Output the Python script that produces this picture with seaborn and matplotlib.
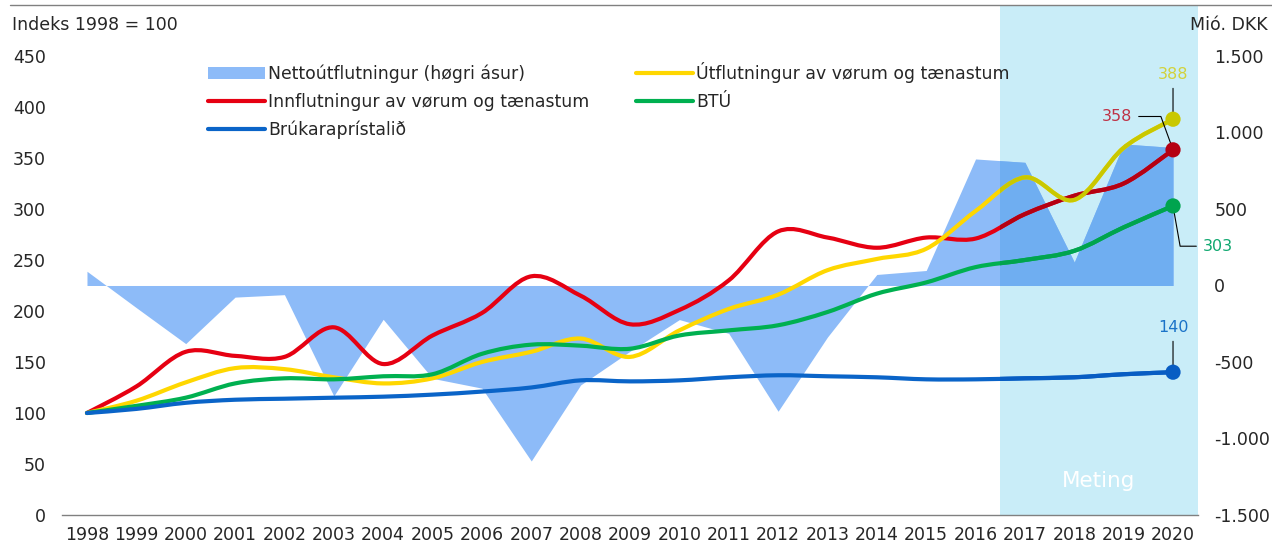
import numpy as np
import pandas as pd
import matplotlib
matplotlib.use("Agg")
import matplotlib.pyplot as plt
import seaborn as sns
from matplotlib.path import Path
from matplotlib.patches import PathPatch, Rectangle, Patch
from matplotlib.lines import Line2D
from matplotlib.colors import to_rgb
from matplotlib.transforms import blended_transform_factory
from matplotlib.ticker import FuncFormatter

# data
years = list(range(1998, 2021))
net_exports = [93, -145, -380, -76, -60, -722, -221, -607, -671, -1147, -650, -430,
               -223, -313, -822, -337, 72, 98, 827, 805, 153, 925, 902]
imports = [100, 126, 160, 156, 155, 184, 148, 176, 198, 234, 215, 187,
           201, 230, 278, 272, 262, 272, 271, 295, 313, 325, 358]
exports = [100, 112, 130, 144, 143, 135, 129, 134, 150, 160, 173, 155,
           181, 202, 216, 240, 251, 261, 298, 331, 309, 360, 388]
gdp = [100, 107, 115, 129, 134, 133, 136, 138, 158, 167, 166, 163,
       176, 181, 186, 199, 217, 228, 243, 250, 259, 282, 303]
cpi = [100, 104, 110, 113, 114, 115, 116, 118, 121, 125, 132, 131,
       132, 135, 137, 136, 135, 133, 133, 134, 135, 138, 140]

forecast_start = 2016.5
forecast_end = 2020.5

label_net = "Nettoútflutningur (høgri ásur)"
label_imp = "Innflutningur av vørum og tænastum"
label_cpi = "Brúkaraprístalið"
label_exp = "Útflutningur av vørum og tænastum"
label_gdp = "BTÚ"

SHADE = "#C9EDF8"
AREA = "#8DBBF8"
RED = "#E60012"
YELLOW = "#FFD700"
GREEN = "#00B050"
BLUE = "#0A64C8"


def darker(c):
    # colour as seen through the forecast band (multiply)
    return tuple(np.array(to_rgb(c)) * np.array(to_rgb(SHADE)))


def smooth_path(x, y):
    # Excel style smoothed line: cubic bezier through every point
    x = np.asarray(x, float)
    y = np.asarray(y, float)
    n = len(x)
    verts = [(x[0], y[0])]
    codes = [Path.MOVETO]
    for i in range(n - 1):
        i0 = max(i - 1, 0)
        i3 = min(i + 2, n - 1)
        c1 = (x[i] + (x[i + 1] - x[i0]) / 6, y[i] + (y[i + 1] - y[i0]) / 6)
        c2 = (x[i + 1] - (x[i3] - x[i]) / 6, y[i + 1] - (y[i3] - y[i]) / 6)
        verts += [c1, c2, (x[i + 1], y[i + 1])]
        codes += [Path.CURVE4] * 3
    return Path(verts, codes)


def band_clip(axis):
    tr = blended_transform_factory(axis.transData, axis.transAxes)
    return Rectangle((forecast_start, 0), forecast_end - forecast_start, 1, transform=tr)


sns.set_style("white")
plt.rcParams['font.family'] = ['DejaVu Sans']

fig = plt.figure(figsize=(12.72, 5.44), dpi=100)
ax = fig.add_axes([62.3 / 1272, 29 / 544, (1197.7 - 62.3) / 1272, (515 - 6) / 544])
ax2 = ax.twinx()

# right axis (net exports) lives on ax so it is drawn under the lines
left_top = 499
ax2.set_ylim(0, left_top)
ax.set_ylim(-1500, (left_top - 225) * 1500 / 225)
ax.set_xlim(1997.5, 2020.5)
ax.yaxis.tick_right()
ax2.yaxis.tick_left()

ax.axvspan(forecast_start, forecast_end, color=SHADE, lw=0, zorder=0)
ax.fill_between(years, 0, net_exports, color=AREA, lw=0, zorder=1)
dark_area = ax.fill_between(years, 0, net_exports, color=darker(AREA), lw=0, zorder=1.1)
dark_area.set_clip_path(band_clip(ax))

series = [(imports, RED), (exports, YELLOW), (gdp, GREEN), (cpi, BLUE)]
for vals, col in series:
    p = smooth_path(years, vals)
    ax2.add_patch(PathPatch(p, facecolor="none", edgecolor=col, lw=3,
                            capstyle="round", joinstyle="round", zorder=2))
    pd2 = PathPatch(p, facecolor="none", edgecolor=darker(col), lw=3,
                    capstyle="round", joinstyle="round", zorder=2.1)
    ax2.add_patch(pd2)
    pd2.set_clip_path(band_clip(ax2))

# end markers
df_end = pd.DataFrame({
    "year": [years[-1]] * 4,
    "value": [exports[-1], imports[-1], gdp[-1], cpi[-1]],
    "series": ["exp", "imp", "gdp", "cpi"],
})
pal = {"exp": darker(YELLOW), "imp": darker(RED), "gdp": darker(GREEN), "cpi": darker(BLUE)}
sns.scatterplot(data=df_end, x="year", y="value", hue="series", palette=pal, s=120,
                edgecolor="none", legend=False, ax=ax2, zorder=5, clip_on=False)
ax2.set_xlabel("")
ax2.set_ylabel("")

lab_kw = dict(fontsize=11.5, textcoords="offset points", ha="center", va="center")
ax2.annotate(str(exports[-1]), xy=(years[-1], exports[-1]), xytext=(0, 32), color="#D2D23C",
             arrowprops=dict(arrowstyle="-", color="black", lw=0.8, shrinkA=2, shrinkB=3), **lab_kw)
ax2.annotate(str(imports[-1]), xy=(years[-1], imports[-1]), xytext=(-40, 24), color="#BE3246",
             arrowprops=dict(arrowstyle="-", color="black", lw=0.8, shrinkA=2, shrinkB=2,
                             connectionstyle="angle,angleA=0,angleB=110,rad=0"), **lab_kw)
ax2.annotate(str(gdp[-1]), xy=(years[-1], gdp[-1]), xytext=(32, -29), color="#10A870",
             arrowprops=dict(arrowstyle="-", color="black", lw=0.8, shrinkA=2, shrinkB=2,
                             connectionstyle="angle,angleA=180,angleB=-80,rad=0"), **lab_kw)
ax2.annotate(str(cpi[-1]), xy=(years[-1], cpi[-1]), xytext=(0, 32), color="#1A73C8",
             arrowprops=dict(arrowstyle="-", color="black", lw=0.8, shrinkA=2, shrinkB=3), **lab_kw)

ax2.text((forecast_start + forecast_end) / 2, 33, "Meting", color="white",
         fontsize=15.5, ha="center", va="center", zorder=6)

# axes styling
ax2.set_yticks(range(0, 451, 50))
ax.set_yticks(range(-1500, 1501, 500))
ax.yaxis.set_major_formatter(FuncFormatter(lambda v, p: f"{int(v):,}".replace(",", ".")))
ax.tick_params(axis="y", length=0, pad=12, labelsize=12.5)
ax2.tick_params(axis="y", length=0, pad=12, labelsize=12.5)
ax.set_xticks(years)
ax.set_xticks(np.arange(1997.5, 2021, 1), minor=True)
ax.tick_params(axis="x", which="major", length=0, pad=8, labelsize=12.5)
ax.tick_params(axis="x", which="minor", length=5, width=1, color="#808080")
for s in ["top", "left", "right"]:
    ax.spines[s].set_visible(False)
for s in ax2.spines.values():
    s.set_visible(False)
ax.spines["bottom"].set_color("#808080")
ax.spines["bottom"].set_linewidth(1)
ax.grid(False)
ax2.grid(False)

fig.text(12 / 1272, 1 - 25 / 544, "Indeks 1998 = 100", fontsize=12.5, va="center")
fig.text(1268 / 1272, 1 - 25 / 544, "Mió. DKK", fontsize=12.5, va="center", ha="right")
fig.add_artist(Line2D([10 / 1272, 1], [1 - 4.5 / 544] * 2, transform=fig.transFigure,
                      color="#808080", lw=1))

handles = [Patch(color=AREA, lw=0),
           Line2D([], [], color=RED, lw=3, solid_capstyle="round"),
           Line2D([], [], color=BLUE, lw=3, solid_capstyle="round"),
           Line2D([], [], color=YELLOW, lw=3, solid_capstyle="round"),
           Line2D([], [], color=GREEN, lw=3, solid_capstyle="round")]
labels = [label_net, label_imp, label_cpi, label_exp, label_gdp]
fig.legend(handles, labels, ncol=2, loc="upper left", bbox_to_anchor=(208 / 1272, 1 - 62 / 544),
           bbox_transform=fig.transFigure, frameon=False, fontsize=12.4, handlelength=3.3,
           handletextpad=0.2, labelspacing=0.58, columnspacing=2.7, borderpad=0, borderaxespad=0)

fig.savefig("out.png", dpi=100)
